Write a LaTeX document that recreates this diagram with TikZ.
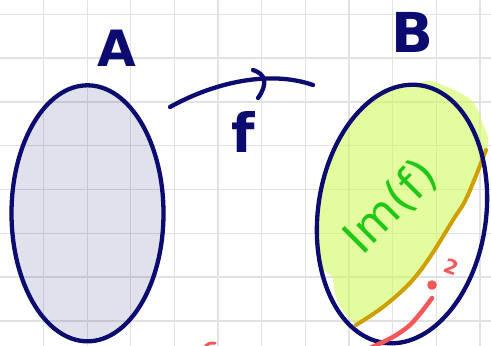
\documentclass[tikz,border=0pt]{standalone}
\usepackage{fontspec}
\setmainfont{DejaVu Sans}
\usetikzlibrary{shapes.geometric}
\definecolor{navy}{RGB}{12,12,112}
\definecolor{hlgreen}{RGB}{205,250,80}
\definecolor{inkgreen}{RGB}{30,200,20}
\definecolor{goldline}{RGB}{205,160,0}
\definecolor{inkred}{RGB}{245,88,88}
\definecolor{gridgray}{RGB}{226,226,226}
\begin{document}
\begin{tikzpicture}[x=1pt,y=-1pt, line cap=round, line join=round,
  setshape/.style={ellipse, draw=navy, line width=4.3pt, inner sep=0pt, outer sep=0pt},
  ink/.style={line width=4.3pt, draw=navy},
  gridline/.style={gridgray, line width=1.3pt},
  letter/.style={text=navy, inner sep=0pt}]
\useasboundingbox (0,0) rectangle (491,346);
\fill[white] (0,0) rectangle (491,346);
% grid
\foreach \k in {0,...,10} \draw[gridline] ({43.5+43.65*\k},0) -- ({43.5+43.65*\k},346);
\foreach \k in {0,...,7} \draw[gridline] (0,{14.3+43.8*\k}) -- (491,{14.3+43.8*\k});
% highlighted image region
\fill[hlgreen, fill opacity=0.55]
  plot[smooth, tension=0.6] coordinates {(356,325) (383,307) (410,283) (430,257) (453,220) (467,197) (486,150)}
  -- plot[smooth, tension=0.6] coordinates {(486,150) (488,138) (482,122) (474,103) (460,93) (445,86) (430,81) (418,83) (390,89) (362,108) (339,139.5) (323,180) (317,225) (321,268)}
  -- (333,277)
  -- plot[smooth, tension=0.6] coordinates {(333,277) (335,293) (341,308) (356,325)} -- cycle;
% boundary line
\draw[goldline, line width=4pt] plot[smooth, tension=0.6] coordinates {(356,325) (383,307) (410,283) (430,257) (453,220) (467,197) (486,150)};
% sets
\node[setshape, fill=navy, fill opacity=0.12, draw opacity=1, minimum width=152pt, minimum height=256pt] (A) at (87.5,213.3) {};
\node[setshape, rotate=-8, minimum width=168pt, minimum height=260pt] (B) at (402,214) {};
% labels
\node[letter, font=\bfseries\fontsize{50}{50}\selectfont] (lA) at (117,48) {A};
\node[letter, font=\bfseries\fontsize{55}{55}\selectfont] (lB) at (412,32) {B};
\node[letter, font=\bfseries\fontsize{54}{54}\selectfont] (lf) at (243,132) {f};
\node[text=inkgreen, inner sep=0pt, rotate=45, font=\fontsize{46}{46}\selectfont] (im) at (391,207) {Im(f)};
% arrow f
\coordinate (fs) at (170,107);
\coordinate (fe) at (313,85);
\draw[ink] (fs) .. controls (215,82) and (270,70) .. (fe);
\coordinate (h1) at (253,70);
\coordinate (h2) at (258,98);
\draw[ink] (h1) .. controls (266,74) and (268,84) .. (h2);
% red marks
\draw[inkred, line width=4.5pt] plot[smooth] coordinates {(432,298) (423,310) (410,325) (393,337) (370,348)};
\fill[inkred] (432,285) circle (4.8pt);
\node[text=inkred, inner sep=0pt, rotate=-20, font=\bfseries\fontsize{20}{20}\selectfont] (two) at (452,267) {2};
\draw[inkred, line width=3pt] (205,347) .. controls (209,343) .. (215,343);
\end{tikzpicture}
\end{document}
